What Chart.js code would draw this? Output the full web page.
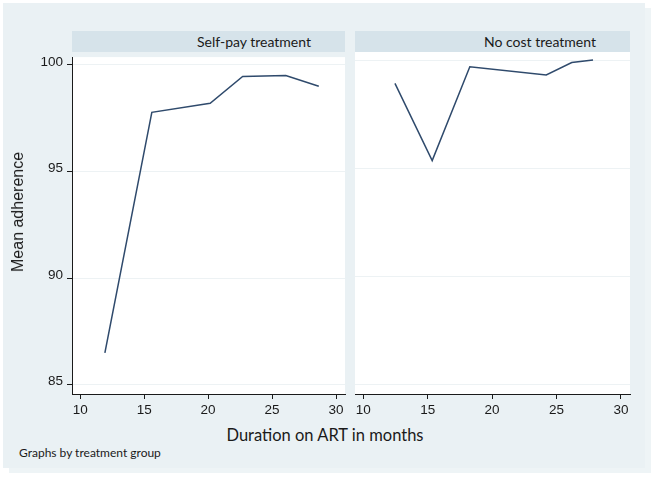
<!DOCTYPE html>
<html>
<head>
<meta charset="utf-8">
<script src="https://cdn.jsdelivr.net/npm/chart.js@4"></script>
<style>
  html, body { margin: 0; padding: 0; background: #ffffff; }
  body { width: 655px; height: 480px; position: relative; overflow: hidden; }
  #frame { position: absolute; left: 3px; top: 3px; width: 642px; height: 465px;
           background: #eaf1f4; box-shadow: 6px 5px 0 #eef4f6; }
  .hdr { position: absolute; top: 31px; height: 21px; background: #d6e3ea; }
  .hdrtxt { position: absolute; top: 0; line-height: 21px; font-family: Lato, "Open Sans", sans-serif;
            font-size: 14px; color: #1a1a1a; white-space: nowrap; }
  .cv { position: absolute; }
  #ytitle { position: absolute; left: 18px; top: 212px; transform: translate(-50%, -50%) rotate(-90deg);
            font-family: "Liberation Sans", Arial, sans-serif; font-size: 16px; color: #1a1a1a; white-space: nowrap; }
  #xtitle { position: absolute; left: 325px; top: 435px; transform: translate(-50%, -50%);
            font-family: Lato, "Open Sans", sans-serif; font-size: 16.5px; color: #1a1a1a; white-space: nowrap; }
  #note { position: absolute; left: 19px; top: 452px; transform: translateY(-50%);
          font-family: Lato, "Open Sans", sans-serif; font-size: 12px; color: #1a1a1a; white-space: nowrap; }
</style>
</head>
<body>
<div id="frame"></div>
<div class="hdr" style="left:72px;width:273px;"><span class="hdrtxt" style="left:125px;">Self-pay treatment</span></div>
<div class="hdr" style="left:355px;width:275px;"><span class="hdrtxt" style="left:129px;">No cost treatment</span></div>
<canvas id="c1" class="cv" style="left:0px;top:45px;" width="350" height="380"></canvas>
<canvas id="c2" class="cv" style="left:350px;top:45px;" width="285" height="380"></canvas>
<div id="ytitle">Mean adherence</div>
<div id="xtitle">Duration on ART in months</div>
<div id="note">Graphs by treatment group</div>
<script>
// ---- data ----
const panelTitles = ["Self-pay treatment", "No cost treatment"];
const selfPayMonths = [11.93, 15.6, 20.16, 22.7, 26.07, 28.65];
const selfPayAdherence = [86.49, 97.78, 98.2, 99.46, 99.51, 99.0];
const noCostMonths = [12.46, 15.35, 18.27, 24.2, 26.18, 27.83];
const noCostAdherence = [98.92, 95.35, 99.69, 99.31, 99.88, 100.0];
const xTickValues = [10, 15, 20, 25, 30];
const yTickValues = [85, 90, 95, 100];
const xRange = [9.36, 30.7];
const yRange = [84.56, 100.37];

const LINE = '#2f4a6c';
const GRID = '#edf2f4';
const AXIS = '#1a1a1a';
const TICKFONT = { family: '"Liberation Sans", Arial, sans-serif', size: 13.5 };

const whiteArea = {
  id: 'whiteArea',
  beforeDraw(chart) {
    const a = chart.chartArea, ctx = chart.ctx;
    ctx.save(); ctx.fillStyle = '#ffffff';
    ctx.fillRect(a.left, a.top, a.right - a.left, a.bottom - a.top);
    ctx.restore();
  }
};

function toXY(xs, ys) { return xs.map((x, i) => ({ x: x, y: ys[i] })); }

function makeChart(id, xs, ys, showY, padLeft, padRight) {
  return new Chart(document.getElementById(id), {
    type: 'line',
    data: { datasets: [{ label: '', data: toXY(xs, ys), borderColor: LINE, borderWidth: 1.5,
      pointRadius: 0, fill: false, tension: 0 }] },
    options: {
      responsive: false, animation: false,
      layout: { padding: { top: 7, left: padLeft, right: padRight, bottom: 0 } },
      plugins: { legend: { display: false }, tooltip: { enabled: false }, title: { display: false } },
      scales: {
        x: {
          type: 'linear', min: xRange[0], max: xRange[1],
          afterBuildTicks: s => { s.ticks = xTickValues.map(v => ({ value: v })); },
          afterFit: s => { s.height = 31; },
          grid: { drawOnChartArea: false, drawTicks: true, tickLength: 5, tickColor: AXIS, tickWidth: 1 },
          border: { display: true, color: AXIS, width: 1 },
          ticks: { color: AXIS, font: TICKFONT, padding: 3, maxRotation: 0, autoSkip: false }
        },
        y: {
          type: 'linear', min: yRange[0], max: yRange[1],
          afterBuildTicks: s => { s.ticks = yTickValues.map(v => ({ value: v })); },
          afterFit: s => { s.width = showY ? 72 : 0; },
          grid: { color: GRID, lineWidth: 1, drawTicks: showY, tickLength: 5, tickColor: AXIS, tickWidth: 1 },
          border: { display: showY, color: AXIS, width: 1 },
          ticks: { display: showY, color: AXIS, font: TICKFONT, padding: 4, labelOffset: -3 }
        }
      }
    },
    plugins: [whiteArea]
  });
}

makeChart('c1', selfPayMonths, selfPayAdherence, true, 0, 5);
makeChart('c2', noCostMonths, noCostAdherence, false, 5, 5);
</script>
</body>
</html>
